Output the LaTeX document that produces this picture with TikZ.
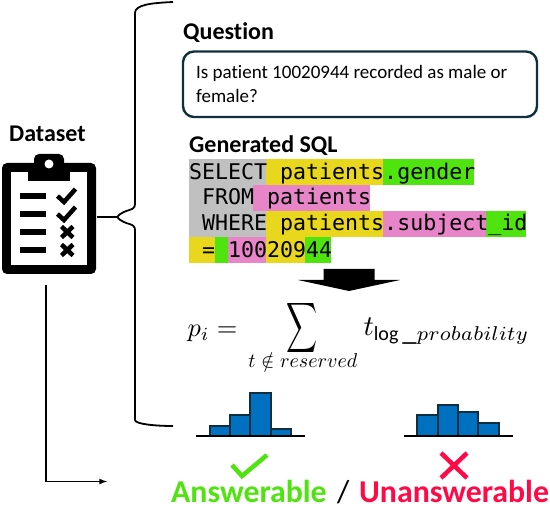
\documentclass[tikz,border=0pt]{standalone}
\usepackage{fontspec}
\setmainfont[Ligatures=NoCommon]{Carlito}
\setmonofont{DejaVu Sans Mono}
\definecolor{BoxClr}{HTML}{0F2F3F}
\definecolor{BarClr}{HTML}{0070C0}
\definecolor{SqlGray}{HTML}{C0C0C0}
\definecolor{SqlYellow}{HTML}{E9D71E}
\definecolor{SqlGreen}{HTML}{4FE30F}
\definecolor{SqlPink}{HTML}{E884C8}
\definecolor{OkClr}{HTML}{4FE30F}
\definecolor{NoClr}{HTML}{FF0A47}
\tikzset{
  head/.style={font=\bfseries\fontsize{24}{26}\selectfont,anchor=base west,inner sep=0pt},
  result/.style={font=\bfseries\fontsize{31.8}{34}\selectfont,anchor=base west,inner sep=0pt},
  sqlline/.style={font=\ttfamily\fontsize{21.6}{24}\selectfont,anchor=base west,inner sep=0pt},
  mathpart/.style={anchor=base west,inner sep=0pt},
  bar/.style={draw=BoxClr,fill=BarClr,line width=1.5pt},
  axisline/.style={line width=1.5pt,black},
}
\begin{document}
\begin{tikzpicture}[x=1pt,y=-1pt]
\useasboundingbox (0,0) rectangle (550,508);

% clipboard
\fill[black,rounded corners=5pt] (2,163) rectangle (96,274);
\fill[white] (11,172) rectangle (87,265);
\fill[black,rounded corners=5pt] (34,154) rectangle (64,175);
\fill[black] (28,170) rectangle (70,181);
\fill[white] (49,164) circle (4.5);
\foreach \y in {196,214,232,250}
  \fill[black] (20,\y-3) rectangle (46,\y+3);
\foreach \y in {0,18}
  \draw[line width=4.5pt,black] (57.5,196+\y) -- (64,202+\y) -- (75.5,189+\y);
\foreach \y in {232,250}
  \draw[line width=4.5pt,black] (61.5,\y-5.5) -- (73,\y+5.5) (73,\y-5.5) -- (61.5,\y+5.5);
\node[head] (dataset) at (9,142) {Dataset};

% brace
\coordinate (tip) at (97,217);
\coordinate (topend) at (173,2);
\coordinate (botend) at (173,426);
\draw[line width=1.8pt] (topend) .. controls (150,3) and (135,5) .. (135,13)
  -- (135,204) .. controls (135,212) and (125,208) .. (117,217) -- (tip);
\draw[line width=1.8pt] (botend) .. controls (155,426) and (135,424) .. (135,420)
  -- (135,230) .. controls (135,222) and (125,226) .. (117,217);

% arrow to the result
\coordinate (lineA) at (46,285);
\coordinate (lineB) at (46,481.5);
\coordinate (lineC) at (107,481.5);
\draw[line width=1.6pt,-latex] (lineA) -- (lineB) -- (lineC);

% question
\node[head] (question) at (183,40) {Question};
\draw[BoxClr,line width=2.4pt,rounded corners=11pt] (183,51.5) rectangle (537,117);
\node[font=\fontsize{19}{23.5}\selectfont,anchor=base west,align=left,inner sep=0pt] (qtext) at (196,102.5)
  {Is patient 10020944 recorded as male or\\female?};

% sql
\node[head] (sqlhead) at (189,152.5) {Generated SQL};
\foreach \xa/\xb/\ya/\yb/\clr in {
  189/266/159/185/SqlGray, 266/383/159/185/SqlYellow, 383/473.5/159/185/SqlGreen,
  189/253/185/211/SqlGray, 253/370/185/211/SqlPink,
  189/266/211/237/SqlGray, 266/383/211/237/SqlYellow, 383/486/211/237/SqlPink, 486/525.5/211/237/SqlGreen,
  189/214.5/237/263/SqlYellow, 214.5/227.5/237/263/SqlGreen, 227.5/266/237/263/SqlPink,
  266/305/237/263/SqlYellow, 305/331/237/263/SqlGreen}
  \fill[\clr] (\xa,\ya) rectangle (\xb,\yb);
\node[sqlline] (sqlA) at (189,179.5) {SELECT patients.gender};
\node[sqlline] (sqlB) at (189,205) {\ FROM patients};
\node[sqlline] (sqlC) at (189,231) {\ WHERE patients.subject\_id};
\node[sqlline] (sqlD) at (189,257.5) {\ = 10020944};

% down arrow
\fill[black] (323.5,269) -- (374.5,269) -- (374.5,280) -- (400,280) -- (349,291) -- (298,280) -- (323.5,280) -- cycle;

% formula
\node[mathpart,scale=2.64] (formulaA) at (187,337) {$p_i =$};
\node[inner sep=0pt,xscale=2.15,yscale=3.5] (formulaB) at (302.5,328) {$\displaystyle\sum$};
\node[mathpart,scale=2] (formulaC) at (248,368) {$t\notin reserved$};
\node[mathpart,scale=2.86] (formulaD) at (363,336) {$t_{\log\_probability}$};

% histograms
\foreach \xa/\xb/\yt in {210/230/426, 230/250/415, 250/271/393, 271/291/429}
  \draw[bar] (\xa,436) rectangle (\xb,\yt);
\draw[axisline] (196,436) -- (305,436);
\foreach \xa/\xb/\yt in {417/438/415, 438/458/405, 458/478/412, 478/499/423}
  \draw[bar] (\xa,436) rectangle (\xb,\yt);
\draw[axisline] (404,436) -- (513,436);

% marks
\draw[OkClr,line width=4.5pt] (232,465) -- (242,476) -- (267,455);
\draw[NoClr,line width=4.5pt] (441,453) -- (467,478) (467,453) -- (441,478);

% results
\node[result,text=OkClr] (answerable) at (171,503) {Answerable};
\node[result,font=\fontsize{31.8}{34}\selectfont] (slash) at (337,503) {/};
\node[result,text=NoClr] (unanswerable) at (359,503) {Unanswerable};
\end{tikzpicture}
\end{document}
